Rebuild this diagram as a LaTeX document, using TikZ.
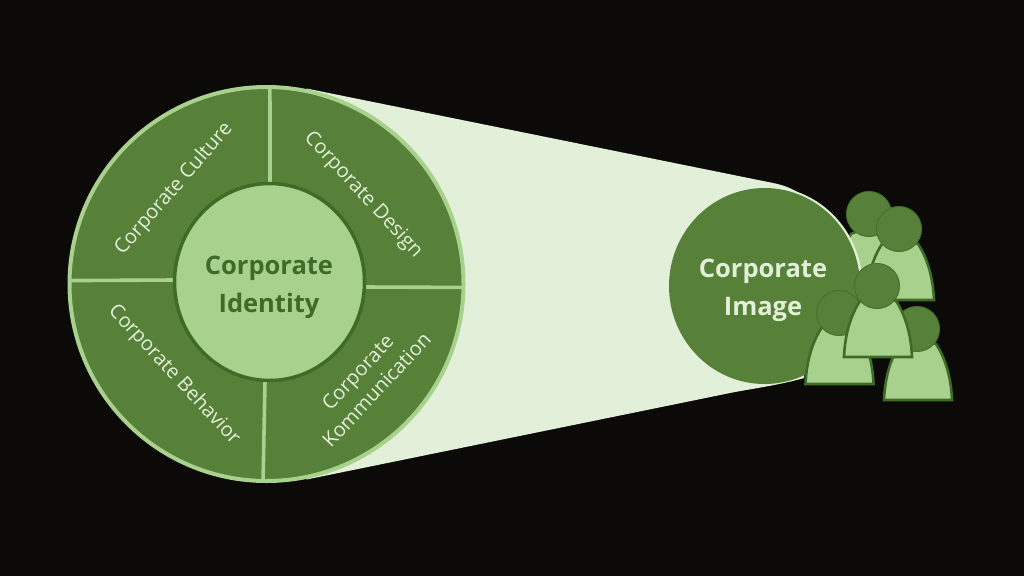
\documentclass[tikz,border=0pt]{standalone}
\usepackage{fontspec}
\usetikzlibrary{shapes.geometric}
\setmainfont{Open Sans}
\definecolor{bgc}{HTML}{0C0A08}
\definecolor{midg}{HTML}{578138}
\definecolor{lightg}{HTML}{A9D18E}
\definecolor{paleg}{HTML}{E2F0D9}
\definecolor{darkg}{HTML}{3F6B28}
\tikzset{
  disc/.style={circle,inner sep=0pt,outer sep=0pt},
  oval/.style={ellipse,inner sep=0pt,outer sep=0pt},
  seglabel/.style={text=paleg,font=\fontsize{20}{26}\selectfont,align=center,inner sep=0pt},
  biglabel/.style={font=\bfseries\fontsize{25.5}{38}\selectfont,align=center,inner sep=0pt},
  divider/.style={draw=lightg,line width=3.6pt},
  head/.style={disc,fill=midg,draw=darkg!70!midg,line width=1pt,minimum size=45pt},
  torso/.style={fill=lightg,draw=darkg,line width=2.6pt,line join=miter},
}
\newcommand{\persontorso}[2]{%
  \draw[torso,shift={(#1,#2)}] (-34,0) .. controls (-33,-25) and (-26,-44) .. (-18,-56)
    -- (0,-64) -- (18,-56) .. controls (26,-44) and (33,-25) .. (34,0) -- cycle;}
\begin{document}
\begin{tikzpicture}[x=1pt,y=-1pt]
\useasboundingbox (0,0) rectangle (1024,576);
\fill[bgc] (0,0) rectangle (1024,576);
% beam
\fill[paleg] (306.5,88.5) -- (773,183) .. controls (790,186.5) and (800,192) .. (812,204)
  -- (804,378) .. controls (780,385) and (750,389) .. (730,393) -- (306.5,479.5) -- cycle;
% people behind the image disc
\persontorso{869}{290}
\node[head] (h1) at (869,214) {};
% image disc
\draw[paleg,line width=2.8pt] (787.8,190.4) arc[start angle=76,end angle=-8,x radius=96.8pt,y radius=98.8pt];
\node[oval,fill=midg,minimum width=191pt,minimum height=196pt] (img) at (764.5,286) {};
\node[biglabel,text=paleg] (imgt) at (763,290) {Corporate\\Image};
% wheel
\node[disc,fill=midg,draw=lightg,line width=4pt,minimum size=394pt] (wheel) at (266.5,284) {};
\draw[divider] (wheel.89) -- (270,183);
\node[oval,fill=lightg,minimum width=190pt,minimum height=197pt] (core) at (269.5,282) {};
\draw[divider] (core.west |- 0,280) -- (wheel.179);
\draw[divider] (core.east |- 0,287) -- (wheel.359);
\draw[divider] (265,381) -- (wheel.269.5);
\draw[darkg,line width=3.5pt] (core.center) ellipse[x radius=95pt,y radius=98.5pt];
\node[biglabel,text=darkg] (coret) at (269,287) {Corporate\\Identity};
\node[seglabel,rotate=49] (s1) at (174,189) {Corporate Culture};
\node[seglabel,rotate=-47] (s2) at (363,195) {Corporate Design};
\node[seglabel,rotate=-47] (s3) at (174,375) {Corporate Behavior};
\node[seglabel,rotate=47] (s4) at (367,381) {Corporate\\Kommunication};
% people
\persontorso{900}{300}
\node[head] (h2) at (899,229) {};
\persontorso{839.5}{384}
\node[head] (h4) at (839,313) {};
\persontorso{918}{400}
\node[head] (h5) at (917,329) {};
\persontorso{878}{357}
\node[head] (h3) at (877,286) {};
\end{tikzpicture}
\end{document}
